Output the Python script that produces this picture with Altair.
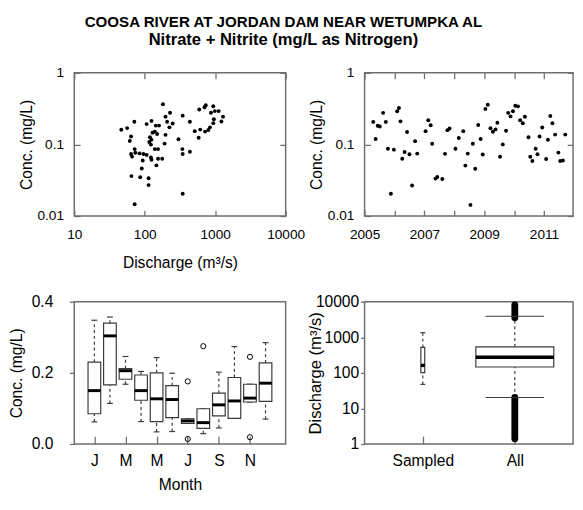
import altair as alt
import pandas as pd

FONT = "Liberation Sans"
FRAME = "#6e6e6e"
BOXC = "#3a3a3a"

# ---------------- Panel 1: concentration vs discharge ----------------
q_discharge = [46.5, 56.3, 71.3, 64.0, 61.4, 72.0, 64.0, 66.1, 73.6, 84.4,
               95.9, 106.4, 93.7, 90.8, 64.8, 86.3, 113.5, 113.5, 72.0, 106.4,
               124.8, 143.6, 159.6, 139.1, 128.9, 149.6, 118.6, 124.8, 116.1, 122.4,
               139.1, 154.5, 122.4, 124.8, 154.5, 177.2, 146.5, 181.3, 228.6, 197.3,
               208, 249, 224.4, 197.3, 191.4, 301.5, 345.9, 437.5, 342.5, 345.9,
               437.5, 345.9, 513, 614, 583, 719, 801, 843, 594, 705,
               735, 940, 871, 989, 1122, 1291, 1225, 957, 940]
q_conc = [0.160, 0.169, 0.207, 0.129, 0.112, 0.086, 0.0736, 0.0676, 0.0766, 0.0750,
          0.0736, 0.0713, 0.0597, 0.0460, 0.0361, 0.0347, 0.0336, 0.0270, 0.0146, 0.192,
          0.213, 0.183, 0.183, 0.151, 0.146, 0.140, 0.126, 0.116, 0.108, 0.0994,
          0.086, 0.086, 0.0655, 0.0610, 0.0629, 0.0629, 0.0510, 0.364, 0.277, 0.244,
          0.207, 0.196, 0.173, 0.136, 0.1026, 0.118, 0.252, 0.207, 0.086, 0.0736,
          0.079, 0.0205, 0.153, 0.161, 0.124, 0.151, 0.159, 0.173, 0.307, 0.331,
          0.352, 0.341, 0.277, 0.292, 0.292, 0.244, 0.209, 0.224, 0.198]

# ---------------- Panel 2: concentration vs time ----------------
t_year = [2005.29, 2005.37, 2005.44, 2005.51, 2005.62, 2005.71, 2005.78, 2005.88, 2005.98,
          2006.09, 2006.15, 2006.20, 2006.26, 2006.34, 2006.42, 2006.50, 2006.59, 2006.69, 2006.76,
          2007.04, 2007.13, 2007.21, 2007.26, 2007.37, 2007.43, 2007.60, 2007.69, 2007.77, 2007.84,
          2008.04, 2008.15, 2008.30, 2008.37, 2008.45, 2008.54, 2008.62, 2008.70, 2008.80, 2008.88, 2008.95,
          2009.04, 2009.12, 2009.21, 2009.29, 2009.38, 2009.44, 2009.53, 2009.62, 2009.73, 2009.80, 2009.88, 2009.96,
          2010.04, 2010.13, 2010.20, 2010.29, 2010.36, 2010.48, 2010.54, 2010.61, 2010.72, 2010.78, 2010.85, 2010.94,
          2011.07, 2011.13, 2011.21, 2011.28, 2011.37, 2011.48, 2011.54, 2011.63, 2011.71]
t_conc = [0.206, 0.119, 0.182, 0.178, 0.276, 0.206, 0.0871, 0.0205, 0.0844,
          0.291, 0.323, 0.210, 0.063, 0.0785, 0.149, 0.073, 0.0267, 0.111, 0.0744,
          0.153, 0.217, 0.185, 0.102, 0.0333, 0.035, 0.0329, 0.0738, 0.158, 0.167,
          0.0871, 0.123, 0.153, 0.0506, 0.0744, 0.0143, 0.102, 0.0456, 0.187, 0.119, 0.0722,
          0.313, 0.358, 0.168, 0.150, 0.162, 0.201, 0.0671, 0.100, 0.155, 0.276, 0.246, 0.291,
          0.347, 0.340, 0.217, 0.197, 0.243, 0.126, 0.0671, 0.0586, 0.0871, 0.073, 0.129, 0.172,
          0.0624, 0.116, 0.249, 0.197, 0.137, 0.0768, 0.0586, 0.0597, 0.137]
year_ticks = [2005, 2006, 2007, 2008, 2009, 2010, 2011]

# ---------------- Panel 3: monthly boxplots ----------------
months = [1, 2, 3, 4, 5, 6, 7, 8, 9, 10, 11, 12]
month_letters = ["J", "", "M", "", "M", "", "J", "", "S", "", "N", ""]
m_lo = [0.062, 0.114, 0.168, 0.063, 0.034, 0.035, 0.058, 0.029, 0.045, 0.072, 0.118, 0.070]
m_q1 = [0.085, 0.166, 0.182, 0.123, 0.063, 0.074, 0.058, 0.044, 0.079, 0.072, 0.118, 0.120]
m_med = [0.150, 0.304, 0.206, 0.150, 0.127, 0.125, 0.065, 0.060, 0.110, 0.121, 0.129, 0.171]
m_q3 = [0.230, 0.340, 0.212, 0.194, 0.200, 0.164, 0.071, 0.099, 0.143, 0.187, 0.168, 0.228]
m_hi = [0.348, 0.357, 0.246, 0.204, 0.243, 0.199, 0.071, 0.099, 0.202, 0.274, 0.168, 0.285]
out_month = [7, 7, 8, 11, 11]
out_conc = [0.176, 0.014, 0.275, 0.245, 0.019]

# ---------------- Panel 4: discharge boxplots ----------------
grp_pos = [1, 2]
grp_names = ["Sampled", "All"]
g_lo = [47.5, 20.3]
g_q1 = [102, 146]
g_med = [162, 275]
g_q3 = [520, 540]
g_hi = [1350, 3900]
g_boxw = [4, 80]
g_capw = [5, 60]
# ranges covered by the dense outlier points of the "All" group
out_lo = [1.4, 3550]
out_hi = [20.5, 8200]

TK = 6
VIEW = alt.ViewBackground(stroke=FRAME, strokeWidth=1.5)


def ax(**kw):
    base = dict(labelFont=FONT, titleFont=FONT, labelColor="black", titleColor="black",
                titleFontWeight="normal", tickColor=FRAME, tickWidth=1.3, domain=False,
                grid=False, labelFlush=False, labelOverlap=False, labelBound=False)
    base.update(kw)
    return alt.Axis(**base)

# ---- Panel 1
df1 = pd.DataFrame({"Q": q_discharge, "C": q_conc})
xs1 = alt.Scale(type="log", domain=[10, 10000], nice=False)
ys1 = alt.Scale(type="log", domain=[0.01, 1], nice=False)
p1a = alt.Chart(df1).mark_circle(size=16, color="black", opacity=1).encode(
    x=alt.X("Q:Q", scale=xs1, axis=ax(orient="bottom", values=[10, 100, 1000, 10000], format="d",
                                      offset=-TK, tickSize=TK, labelPadding=12, labelFontSize=14,
                                      title="Discharge (m³/s)", titleFontSize=16, titlePadding=14)),
    y=alt.Y("C:Q", scale=ys1, axis=ax(orient="left", values=[0.01, 0.1, 1], format="~g",
                                      offset=-TK, tickSize=TK, labelPadding=11, labelFontSize=14,
                                      title="Conc. (mg/L)", titleFontSize=16, titlePadding=3)),
)
p1b = alt.Chart(df1).mark_circle(opacity=0).encode(
    x=alt.X("Q:Q", scale=xs1, axis=ax(orient="top", values=[10, 100, 1000, 10000], offset=-TK,
                                      tickSize=TK, labels=False, title=None)),
    y=alt.Y("C:Q", scale=ys1, axis=ax(orient="right", values=[0.01, 0.1, 1], offset=-TK,
                                      tickSize=TK, labels=False, title=None)),
)
p1 = alt.layer(p1a, p1b).resolve_axis(x="independent", y="independent").properties(
    width=217, height=147, view=VIEW)

# ---- Panel 2
df2 = pd.DataFrame({"t": t_year, "C": t_conc})
xs2 = alt.Scale(domain=[2005, 2011.97], nice=False, zero=False)
p2a = alt.Chart(df2).mark_circle(size=16, color="black", opacity=1).encode(
    x=alt.X("t:Q", scale=xs2, axis=ax(orient="bottom", values=year_ticks, format="d",
                                      labelExpr="datum.value % 2 == 1 ? datum.label : ''",
                                      offset=-TK, tickSize=TK, labelPadding=12, labelFontSize=14,
                                      title=None)),
    y=alt.Y("C:Q", scale=ys1, axis=ax(orient="left", values=[0.01, 0.1, 1], format="~g",
                                      offset=-TK, tickSize=TK, labelPadding=11, labelFontSize=14,
                                      title="Conc. (mg/L)", titleFontSize=16, titlePadding=3)),
)
p2b = alt.Chart(df2).mark_circle(opacity=0).encode(
    x=alt.X("t:Q", scale=xs2, axis=ax(orient="top", values=year_ticks, offset=-TK,
                                      tickSize=TK, labels=False, title=None)),
    y=alt.Y("C:Q", scale=ys1, axis=ax(orient="right", values=[0.01, 0.1, 1], offset=-TK,
                                      tickSize=TK, labels=False, title=None)),
)
p2 = alt.layer(p2a, p2b).resolve_axis(x="independent", y="independent").properties(
    width=214, height=147, view=VIEW)

# ---- Panel 3
df3 = pd.DataFrame({"m": months, "lab": month_letters, "lo": m_lo, "q1": m_q1, "med": m_med,
                    "q3": m_q3, "hi": m_hi})
df3o = pd.DataFrame({"m": out_month, "c": out_conc})
xs3 = alt.Scale(domain=[0.02, 12.98], nice=False, zero=False)
ys3 = alt.Scale(domain=[0, 0.4], nice=False)
letters_expr = "[" + ",".join("'%s'" % s for s in month_letters) + "][datum.value - 1]"
x3 = alt.X("m:Q", scale=xs3, axis=ax(orient="bottom", values=months, labelExpr=letters_expr,
                                     offset=-8, tickSize=8, labelPadding=9, labelFontSize=16,
                                     title="Month", titleFontSize=16, titlePadding=9))
y3axis = ax(orient="left", values=[0, 0.1, 0.2, 0.3, 0.4], format=".1f", tickSize=5,
            labelPadding=17, labelFontSize=16, title="Conc. (mg/L)", titleFontSize=16, titlePadding=7)
w_hi = alt.Chart(df3).mark_rule(strokeDash=[3, 3], color=BOXC, strokeWidth=1.2).encode(
    x=x3, y=alt.Y("q3:Q", scale=ys3, axis=y3axis), y2="hi:Q")
w_lo = alt.Chart(df3).mark_rule(strokeDash=[3, 3], color=BOXC, strokeWidth=1.2).encode(
    x="m:Q", y="lo:Q", y2="q1:Q")
c_hi = alt.Chart(df3).mark_tick(orient="horizontal", size=6, thickness=1.2, color=BOXC, opacity=1).encode(
    x="m:Q", y="hi:Q")
c_lo = alt.Chart(df3).mark_tick(orient="horizontal", size=6, thickness=1.2, color=BOXC, opacity=1).encode(
    x="m:Q", y="lo:Q")
bx3 = alt.Chart(df3).mark_bar(size=13, fill="white", stroke=BOXC, strokeWidth=1.2).encode(
    x="m:Q", y="q1:Q", y2="q3:Q")
md3 = alt.Chart(df3).mark_tick(orient="horizontal", size=13, thickness=3, color="black", opacity=1).encode(
    x="m:Q", y="med:Q")
ol3 = alt.Chart(df3o).mark_point(shape="circle", filled=False, size=28, color="black", strokeWidth=1,
                                 opacity=1).encode(x="m:Q", y="c:Q")
p3 = alt.layer(w_hi, w_lo, c_hi, c_lo, bx3, md3, ol3).properties(width=217, height=146, view=VIEW)

# ---- Panel 4
df4 = pd.DataFrame({"g": grp_pos, "name": grp_names, "lo": g_lo, "q1": g_q1, "med": g_med,
                    "q3": g_q3, "hi": g_hi, "bw": g_boxw, "cw": g_capw})
df4o = pd.DataFrame({"g": [2, 2], "lo": out_lo, "hi": out_hi})
xs4 = alt.Scale(domain=[0.42, 2.58], nice=False, zero=False)
ys4 = alt.Scale(type="log", domain=[1, 10000], nice=False)
x4 = alt.X("g:Q", scale=xs4, axis=ax(orient="bottom", values=grp_pos,
                                     labelExpr="datum.value == 1 ? 'Sampled' : 'All'",
                                     offset=-8, tickSize=8, labelPadding=9, labelFontSize=16,
                                     title=None))
y4axis = ax(orient="left", values=[1, 10, 100, 1000, 10000], format="d", tickSize=4,
            labelPadding=2, labelFontSize=16, title="Discharge (m³/s)", titleFontSize=17,
            titleX=-41, titlePadding=2)
w4h = alt.Chart(df4).mark_rule(strokeDash=[3, 3], color=BOXC, strokeWidth=1.2).encode(
    x=x4, y=alt.Y("q3:Q", scale=ys4, axis=y4axis), y2="hi:Q")
w4l = alt.Chart(df4).mark_rule(strokeDash=[3, 3], color=BOXC, strokeWidth=1.2).encode(
    x="g:Q", y="lo:Q", y2="q1:Q")
o4 = alt.Chart(df4o).mark_rule(strokeWidth=7, strokeCap="round", color="black").encode(
    x="g:Q", y="lo:Q", y2="hi:Q")
c4h = alt.Chart(df4).mark_tick(orient="horizontal", thickness=1.2, color=BOXC, opacity=1).encode(
    x="g:Q", y="hi:Q", size=alt.Size("cw:Q", scale=None, legend=None))
c4l = alt.Chart(df4).mark_tick(orient="horizontal", thickness=1.2, color=BOXC, opacity=1).encode(
    x="g:Q", y="lo:Q", size=alt.Size("cw:Q", scale=None, legend=None))
bx4 = alt.Chart(df4).mark_bar(fill="white", stroke=BOXC, strokeWidth=1.2).encode(
    x="g:Q", y="q1:Q", y2="q3:Q", size=alt.Size("bw:Q", scale=None, legend=None))
md4 = alt.Chart(df4).mark_tick(orient="horizontal", thickness=3.5, color="black", opacity=1).encode(
    x="g:Q", y="med:Q", size=alt.Size("bw:Q", scale=None, legend=None))
p4 = alt.layer(w4h, w4l, o4, c4h, c4l, bx4, md4).properties(width=214, height=146, view=VIEW)

chart = alt.concat(
    p1, p2, p3, p4, columns=2, spacing={"row": 88, "column": 81}, bounds="flush",
    title=alt.TitleParams(
        text="COOSA RIVER AT JORDAN DAM NEAR WETUMPKA AL",
        subtitle="Nitrate + Nitrite  (mg/L as Nitrogen)",
        font=FONT, fontSize=15.5, fontWeight="bold", color="black",
        subtitleFont=FONT, subtitleFontSize=17, subtitleFontWeight="bold", subtitleColor="black",
        subtitlePadding=2, anchor="middle", frame="bounds", offset=18, dx=-8,
    ),
).configure_view(stroke=FRAME, strokeWidth=1.5).properties(
    padding={"left": 0, "top": 0, "right": 0, "bottom": 0}
)

chart.save("out.html", embed_options={"renderer": "svg", "actions": False})
